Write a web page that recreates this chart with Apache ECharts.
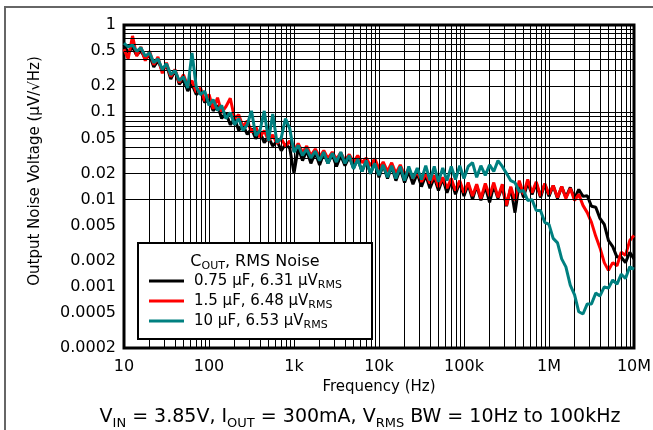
<!DOCTYPE html>
<html>
<head>
<meta charset="utf-8">
<script src="https://cdn.jsdelivr.net/npm/echarts@6/dist/echarts.min.js"></script>
<style>
html, body { margin: 0; padding: 0; background: #fff; }
#chart { width: 653px; height: 430px; }
</style>
</head>
<body>
<div id="chart"></div>
<script>
// frequency points (Hz)
var freq = [
  10, 11.2, 12.6, 14.1, 15.8, 17.8, 20, 22.4, 25.1, 28.2, 31.6, 35.5, 39.8, 44.7, 50.1, 56.2, 63.1, 70.8, 79.4, 89.1,
  100, 112, 126, 141, 158, 178, 200, 224, 251, 282, 316, 355, 398, 447, 501, 562, 631, 708, 794, 891,
  1000, 1120, 1260, 1410, 1580, 1780, 2000, 2240, 2510, 2820, 3160, 3550, 3980, 4470, 5010, 5620, 6310, 7080, 7940, 8910,
  10000, 11200, 12600, 14100, 15800, 17800, 20000, 22400, 25100, 28200, 31600, 35500, 39800, 44700, 50100, 56200, 63100, 70800, 79400, 89100,
  100000, 112000, 126000, 141000, 158000, 178000, 200000, 224000, 251000, 282000, 316000, 355000, 398000, 447000, 501000, 562000, 631000, 708000, 794000, 891000,
  1000000, 1120000, 1260000, 1410000, 1580000, 1780000, 2000000, 2240000, 2510000, 2820000, 3160000, 3550000, 3980000, 4470000, 5010000, 5620000, 6310000, 7080000, 7940000, 8910000,
  10000000
];
// noise density, uV/rtHz
var cout075 = [
  0.59, 0.48, 0.56, 0.45, 0.51, 0.41, 0.45, 0.33, 0.39, 0.30,
  0.35, 0.24, 0.30, 0.21, 0.24, 0.176, 0.21, 0.16, 0.176, 0.13,
  0.14, 0.104, 0.12, 0.085, 0.099, 0.072, 0.085, 0.062, 0.072, 0.056,
  0.065, 0.05, 0.059, 0.045, 0.052, 0.041, 0.047, 0.0365, 0.043, 0.039,
  0.020, 0.039, 0.028, 0.0365, 0.026, 0.0345, 0.025, 0.034, 0.026, 0.033,
  0.024, 0.032, 0.0245, 0.031, 0.023, 0.0295, 0.021, 0.028, 0.0198, 0.0265,
  0.018, 0.025, 0.0175, 0.024, 0.0165, 0.0225, 0.0157, 0.021, 0.015, 0.020,
  0.0141, 0.019, 0.0135, 0.018, 0.0127, 0.0175, 0.012, 0.0165, 0.0115, 0.0157,
  0.011, 0.015, 0.0101, 0.0145, 0.0098, 0.0141, 0.0093, 0.0145, 0.0103, 0.0141,
  0.0084, 0.0138, 0.0071, 0.0153, 0.0106, 0.0157, 0.0115, 0.0153, 0.0106, 0.015,
  0.0109, 0.0145, 0.0103, 0.0141, 0.0106, 0.0138, 0.0103, 0.0131, 0.0109, 0.0111,
  0.0084, 0.0082, 0.0061, 0.0052, 0.0034, 0.0029, 0.0022, 0.0022, 0.0019, 0.0025,
  0.0021
];
var cout15 = [
  0.53, 0.41, 0.75, 0.44, 0.56, 0.39, 0.50, 0.35, 0.43, 0.28,
  0.37, 0.255, 0.31, 0.22, 0.27, 0.20, 0.23, 0.17, 0.19, 0.135,
  0.16, 0.11, 0.147, 0.099, 0.116, 0.145, 0.085, 0.094, 0.068, 0.08,
  0.059, 0.068, 0.052, 0.062, 0.047, 0.055, 0.044, 0.05, 0.041, 0.047,
  0.0365, 0.044, 0.0345, 0.041, 0.032, 0.038, 0.031, 0.0365, 0.0295, 0.035,
  0.029, 0.0345, 0.028, 0.033, 0.027, 0.032, 0.0265, 0.030, 0.0245, 0.0295,
  0.0225, 0.027, 0.021, 0.0265, 0.020, 0.025, 0.019, 0.0225, 0.0175, 0.021,
  0.016, 0.020, 0.0153, 0.019, 0.014, 0.018, 0.0135, 0.0175, 0.0127, 0.0165,
  0.012, 0.0157, 0.011, 0.015, 0.0103, 0.0153, 0.011, 0.0157, 0.0106, 0.015,
  0.0086, 0.0141, 0.0098, 0.0165, 0.0115, 0.017, 0.012, 0.016, 0.011, 0.0153,
  0.0115, 0.0145, 0.0106, 0.0141, 0.0103, 0.0135, 0.0098, 0.0115, 0.0086, 0.0071,
  0.0055, 0.0038, 0.0028, 0.0019, 0.00155, 0.0019, 0.00175, 0.0025, 0.0023, 0.0034,
  0.0039
];
var cout10 = [
  0.62, 0.56, 0.59, 0.50, 0.55, 0.44, 0.48, 0.37, 0.41, 0.31,
  0.36, 0.27, 0.30, 0.23, 0.255, 0.19, 0.48, 0.195, 0.16, 0.175,
  0.12, 0.14, 0.105, 0.12, 0.085, 0.099, 0.072, 0.085, 0.062, 0.072,
  0.104, 0.054, 0.062, 0.104, 0.047, 0.096, 0.045, 0.051, 0.085, 0.065,
  0.035, 0.042, 0.032, 0.038, 0.030, 0.036, 0.028, 0.035, 0.026, 0.034,
  0.027, 0.035, 0.026, 0.032, 0.0225, 0.029, 0.021, 0.028, 0.020, 0.026,
  0.019, 0.025, 0.018, 0.0245, 0.0175, 0.024, 0.0165, 0.024, 0.0175, 0.023,
  0.017, 0.0245, 0.0165, 0.024, 0.016, 0.023, 0.0165, 0.024, 0.017, 0.0245,
  0.0175, 0.024, 0.0265, 0.018, 0.0245, 0.019, 0.025, 0.021, 0.028, 0.024,
  0.020, 0.0165, 0.0157, 0.0124, 0.0127, 0.0098, 0.010, 0.0075, 0.0075, 0.0055,
  0.0052, 0.0036, 0.0032, 0.0021, 0.0017, 0.00105, 0.00081, 0.00052, 0.00049, 0.00064,
  0.00064, 0.00085, 0.00079, 0.001, 0.00097, 0.0012, 0.00108, 0.0014, 0.00125, 0.0017,
  0.0016
];
var names = ['0.75 μF, 6.31 μV', '1.5 μF, 6.48 μV', '10 μF, 6.53 μV'];
var colors = ['#000000', '#ff0000', '#008080'];

var xTickValues = [10, 100, 1000, 10000, 100000, 1000000, 10000000];
var xTickLabels = ['10', '100', '1k', '10k', '100k', '1M', '10M'];
var yTickValues = [1, 0.5, 0.2, 0.1, 0.05, 0.02, 0.01, 0.005, 0.002, 0.001, 0.0005, 0.0002];
var yTickLabels = ['1', '0.5', '0.2', '0.1', '0.05', '0.02', '0.01', '0.005', '0.002', '0.001', '0.0005', '0.0002'];

var FONT = 'DejaVu Sans';

// log-paper grid lines: 1..9 of every decade
var gridLines = [];
[10, 100, 1000, 10000, 100000, 1000000].forEach(function (d) {
  for (var m = 1; m <= 9; m++) { if (m * d > 10) gridLines.push({ xAxis: m * d }); }
});
[0.0001, 0.001, 0.01, 0.1].forEach(function (d) {
  for (var m = 1; m <= 9; m++) {
    var v = m * d;
    if (v > 0.00021 && v < 0.99) gridLines.push({ yAxis: v });
  }
});

function pickLabel(values, labels, v) {
  var best = 0, bd = Infinity;
  for (var i = 0; i < values.length; i++) {
    var dd = Math.abs(Math.log(values[i]) - Math.log(v));
    if (dd < bd) { bd = dd; best = i; }
  }
  return labels[best];
}

function pairs(vals) {
  return freq.map(function (f, i) { return [f, vals[i]]; });
}

var chart = echarts.init(document.getElementById('chart'));
var series = [{
  type: 'line',
  name: 'grid',
  data: [],
  silent: true,
  z: 1,
  markLine: {
    silent: true,
    symbol: 'none',
    animation: false,
    label: { show: false },
    lineStyle: { color: '#000', width: 1, type: 'solid' },
    emphasis: { disabled: true },
    data: gridLines
  }
}];
[cout075, cout15, cout10].forEach(function (vals, i) {
  series.push({
    type: 'line',
    name: names[i],
    data: pairs(vals),
    showSymbol: false,
    symbol: 'none',
    z: 3 + i,
    lineStyle: { color: colors[i], width: 3 },
    itemStyle: { color: colors[i] },
    emphasis: { disabled: true }
  });
});

option = {
  animation: false,
  backgroundColor: '#fff',
  grid: {
    left: 124, right: 19, top: 25, bottom: 82,
    show: true, borderColor: '#000', borderWidth: 3, backgroundColor: 'transparent',
    outerBoundsMode: 'none'
  },
  xAxis: {
    type: 'log', logBase: 10, min: 10, max: 10000000,
    name: 'Frequency (Hz)', nameLocation: 'middle', nameGap: 31,
    nameTextStyle: { fontFamily: FONT, fontSize: 15, color: '#000' },
    axisLine: { show: false }, axisTick: { show: false }, splitLine: { show: false },
    minorTick: { show: false }, minorSplitLine: { show: false },
    axisLabel: {
      customValues: xTickValues,
      margin: 11, color: '#000', fontFamily: FONT, fontSize: 16,
      formatter: function (v) { return pickLabel(xTickValues, xTickLabels, v); }
    }
  },
  yAxis: {
    type: 'log', logBase: 10, min: 0.0002, max: 1,
    axisLine: { show: false }, axisTick: { show: false }, splitLine: { show: false },
    minorTick: { show: false }, minorSplitLine: { show: false },
    axisLabel: {
      customValues: yTickValues,
      margin: 8, color: '#000', fontFamily: FONT, fontSize: 16,
      formatter: function (v) { return pickLabel(yTickValues, yTickLabels, v); }
    }
  },
  legend: {
    data: names,
    orient: 'vertical',
    left: 149, top: 271,
    padding: 0, itemGap: 0,
    itemWidth: 35, itemHeight: 3,
    icon: 'rect',
    selectedMode: false,
    z: 20,
    formatter: function (n) { return n + '{s|RMS}'; },
    textStyle: {
      fontFamily: FONT, fontSize: 15, color: '#000', lineHeight: 20, padding: [0, 0, 0, 5],
      rich: { s: { fontFamily: FONT, fontSize: 11, color: '#000', verticalAlign: 'bottom', lineHeight: 13 } }
    }
  },
  graphic: [
    { type: 'polyline', z: 30, shape: { points: [[5, 430], [5, 7], [653, 7]] }, style: { stroke: '#666', lineWidth: 2, fill: null } },
    { type: 'rect', z: 15, shape: { x: 138, y: 243, width: 234, height: 96 }, style: { fill: '#fff', stroke: '#000', lineWidth: 2 } },
    {
      type: 'text', z: 21, x: 255, y: 262,
      style: {
        text: '{n|C}{s|OUT}{n|, RMS Noise}', align: 'center', verticalAlign: 'middle',
        rich: {
          n: { fontFamily: FONT, fontSize: 16, fill: '#000', lineHeight: 20 },
          s: { fontFamily: FONT, fontSize: 11, fill: '#000', lineHeight: 13, verticalAlign: 'bottom' }
        }
      }
    },
    {
      type: 'text', z: 21, x: 35, y: 171, rotation: Math.PI / 2,
      style: {
        text: 'Output Noise Voltage (μV/√Hz)', align: 'center', verticalAlign: 'middle',
        fontFamily: FONT, fontSize: 15, fill: '#000'
      }
    },
    {
      type: 'text', z: 21, x: 360, y: 417,
      style: {
        text: '{n|V}{s|IN}{n| = 3.85V, I}{s|OUT}{n| = 300mA, V}{s|RMS}{n| BW = 10Hz to 100kHz}',
        align: 'center', verticalAlign: 'middle',
        rich: {
          n: { fontFamily: FONT, fontSize: 19, fill: '#000', lineHeight: 26 },
          s: { fontFamily: FONT, fontSize: 13, fill: '#000', lineHeight: 17, verticalAlign: 'bottom' }
        }
      }
    }
  ],
  series: series
};
chart.setOption(option);
</script>
</body>
</html>
